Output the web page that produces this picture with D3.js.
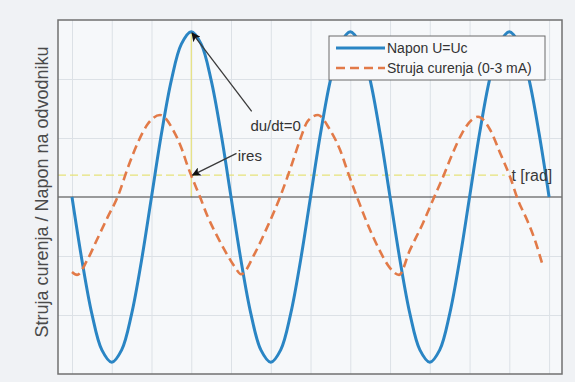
<!DOCTYPE html>
<html>
<head>
<meta charset="utf-8">
<script src="https://cdn.jsdelivr.net/npm/d3@7"></script>
<style>
  html, body { margin: 0; padding: 0; background: #f0f2f5; }
  svg { display: block; font-family: "Liberation Sans", Arial, sans-serif; }
</style>
</head>
<body>
<svg id="chart" width="575" height="382"></svg>
<script>
// Arrester voltage U = Uc, sampled every pi/8 rad over three periods
const voltagePhaseStep = Math.PI / 8;
const voltage = [
  0, -1.07, -1.98, -2.59, -2.80, -2.59, -1.98, -1.07,
  0, 1.07, 1.98, 2.59, 2.80, 2.59, 1.98, 1.07,
  0, -1.07, -1.98, -2.59, -2.80, -2.59, -1.98, -1.07,
  0, 1.07, 1.98, 2.59, 2.80, 2.59, 1.98, 1.07,
  0, -1.07, -1.98, -2.59, -2.80, -2.59, -1.98, -1.07,
  0, 1.07, 1.98, 2.59, 2.80, 2.59, 1.98, 1.07,
  0
];

// Leakage current (0-3 mA): phase in rad and scaled value
const currentPhase = [
  0, 0.20, 0.59, 0.99, 1.40, 1.82, 2.21, 2.61, 3.00, 3.48,
  3.99, 4.35, 4.58, 4.78, 5.06, 5.33, 5.73, 6.12, 6.44, 6.68,
  7.23, 7.63, 8.22, 8.69, 9.01, 9.32, 9.72,
  10.19, 10.59, 10.90, 11.26, 11.66, 12.09, 12.56, 12.92,
  13.35, 13.87, 14.26, 14.66, 15.01, 15.41, 15.80, 16.04,
  16.52, 16.91, 17.31, 17.62, 17.98, 18.29, 18.57
];
const currentValue = [
  -1.27, -1.32, -1.08, -0.72, -0.35, 0.02, 0.50, 0.93, 1.24, 1.39,
  1.14, 0.80, 0.51, 0.29, 0.00, -0.30, -0.66, -0.97, -1.19, -1.31,
  -0.95, -0.59, 0.00, 0.56, 0.97, 1.29, 1.39,
  1.14, 0.80, 0.42, 0.00, -0.44, -0.85, -1.20, -1.32,
  -0.90, -0.44, -0.05, 0.34, 0.71, 1.08, 1.31, 1.36,
  1.14, 0.75, 0.34, -0.05, -0.39, -0.73, -1.12
];

// Resistive current level read at the voltage peak
const iresLevel = 0.37;
// Phase of the voltage peak (du/dt = 0)
const peakPhase = 3 * Math.PI / 2;

const seriesNames = ["Napon U=Uc", "Struja curenja (0-3 mA)"];
const axisTitle = "Struja curenja / Napon na odvodniku";
const unitLabel = "t [rad]";
const noteLabels = ["du/dt=0", "ires"];

// ---------------------------------------------------------------
const svg = d3.select("#chart");
const plot = { left: 58, right: 562, top: 20, bottom: 374 };

const x = d3.scaleLinear().domain([-0.553, 19.36]).range([plot.left, plot.right]);
const y = d3.scaleLinear().domain([-3, 3]).range([plot.bottom, plot.top]);

const colors = { voltage: "#2a85c4", current: "#e27a48", guide: "#e6e27a", grid: "#dce1e6" };

// plot background
svg.append("rect")
  .attr("x", plot.left).attr("y", plot.top)
  .attr("width", plot.right - plot.left).attr("height", plot.bottom - plot.top)
  .attr("fill", "#f6f8fa");

// grid via axes with full-length ticks and no labels
const xGrid = d3.range(0, 13).map(k => k * Math.PI / 2);
const gx = svg.append("g")
  .attr("transform", `translate(0,${plot.bottom})`)
  .call(d3.axisBottom(x).tickValues(xGrid).tickSize(-(plot.bottom - plot.top)).tickSizeOuter(0).tickFormat(""));
gx.select(".domain").remove();
gx.selectAll(".tick line").attr("stroke", colors.grid).attr("stroke-width", 1);

const gy = svg.append("g")
  .attr("transform", `translate(${plot.left},0)`)
  .call(d3.axisLeft(y).tickValues([-2, -1, 1, 2]).tickSize(-(plot.right - plot.left)).tickSizeOuter(0).tickFormat(""));
gy.select(".domain").remove();
gy.selectAll(".tick line").attr("stroke", colors.grid).attr("stroke-width", 1);

// guide lines at the voltage peak
svg.append("line")
  .attr("x1", x(peakPhase)).attr("x2", x(peakPhase))
  .attr("y1", y(voltage[12])).attr("y2", y(0))
  .attr("stroke", colors.guide).attr("stroke-width", 1.2);
svg.append("line")
  .attr("x1", plot.left).attr("x2", x(17.1))
  .attr("y1", y(iresLevel)).attr("y2", y(iresLevel))
  .attr("stroke", colors.guide).attr("stroke-width", 1.4)
  .attr("stroke-dasharray", "8,4");

// zero axis
svg.append("line")
  .attr("x1", plot.left).attr("x2", plot.right)
  .attr("y1", y(0)).attr("y2", y(0))
  .attr("stroke", "#3d3d3d").attr("stroke-width", 1.2);

// voltage curve
const voltagePts = voltage.map((v, i) => [i * voltagePhaseStep, v]);
svg.append("path")
  .datum(voltagePts)
  .attr("fill", "none")
  .attr("stroke", colors.voltage)
  .attr("stroke-width", 3)
  .attr("d", d3.line().x(d => x(d[0])).y(d => y(d[1])).curve(d3.curveCatmullRom.alpha(0.5)));

// leakage current curve
const currentPts = currentPhase.map((t, i) => [t, currentValue[i]]);
svg.append("path")
  .datum(currentPts)
  .attr("fill", "none")
  .attr("stroke", colors.current)
  .attr("stroke-width", 2.6)
  .attr("stroke-dasharray", "9,5")
  .attr("d", d3.line().x(d => x(d[0])).y(d => y(d[1])).curve(d3.curveMonotoneX));

// arrow marker
svg.append("defs").append("marker")
  .attr("id", "arrowHead")
  .attr("viewBox", "0 0 10 10")
  .attr("refX", 9).attr("refY", 5)
  .attr("markerWidth", 11).attr("markerHeight", 9)
  .attr("markerUnits", "userSpaceOnUse")
  .attr("orient", "auto")
  .append("path").attr("d", "M0,0 L10,5 L0,10 L2.5,5 Z").attr("fill", "#111");

// annotations
const notes = [
  { label: noteLabels[0], from: [7.1, 1.45], to: [peakPhase + 0.03, voltage[12] - 0.02], text: [7.05, 1.22] },
  { label: noteLabels[1], from: [6.5, 0.74], to: [peakPhase + 0.05, iresLevel], text: [6.55, 0.71] }
];
notes.forEach(n => {
  svg.append("line")
    .attr("x1", x(n.from[0])).attr("y1", y(n.from[1]))
    .attr("x2", x(n.to[0])).attr("y2", y(n.to[1]))
    .attr("stroke", "#3a3a3a").attr("stroke-width", 1.3)
    .attr("marker-end", "url(#arrowHead)");
  svg.append("text")
    .attr("x", x(n.text[0])).attr("y", y(n.text[1]))
    .attr("dominant-baseline", "central")
    .attr("font-size", 15).attr("fill", "#333")
    .text(n.label);
});

svg.append("text")
  .attr("x", x(17.36)).attr("y", y(iresLevel))
  .attr("dominant-baseline", "central")
  .attr("font-size", 16).attr("fill", "#3a3a3a")
  .text(unitLabel);

// legend
const legend = svg.append("g").attr("transform", "translate(329,36)");
legend.append("rect")
  .attr("width", 216).attr("height", 44)
  .attr("fill", "#f8f9fb").attr("stroke", "#6a6a6a").attr("stroke-width", 1);
const legendItems = [
  { name: seriesNames[0], color: colors.voltage, dash: null, w: 3 },
  { name: seriesNames[1], color: colors.current, dash: "9,5", w: 2.6 }
];
legendItems.forEach((it, i) => {
  const yy = 12 + i * 20;
  legend.append("line")
    .attr("x1", 7).attr("x2", 56).attr("y1", yy).attr("y2", yy)
    .attr("stroke", it.color).attr("stroke-width", it.w)
    .attr("stroke-dasharray", it.dash);
  legend.append("text")
    .attr("x", 58).attr("y", yy)
    .attr("dominant-baseline", "central")
    .attr("font-size", 14).attr("fill", "#333")
    .text(it.name);
});

// plot frame
svg.append("rect")
  .attr("x", plot.left).attr("y", plot.top)
  .attr("width", plot.right - plot.left).attr("height", plot.bottom - plot.top)
  .attr("fill", "none").attr("stroke", "#707070").attr("stroke-width", 1.5);

// y-axis title
svg.append("text")
  .attr("transform", `translate(42,${(plot.top + plot.bottom) / 2 - 5}) rotate(-90)`)
  .attr("text-anchor", "middle")
  .attr("dominant-baseline", "central")
  .attr("font-size", 18).attr("fill", "#4a4a4a")
  .text(axisTitle);
</script>
</body>
</html>
